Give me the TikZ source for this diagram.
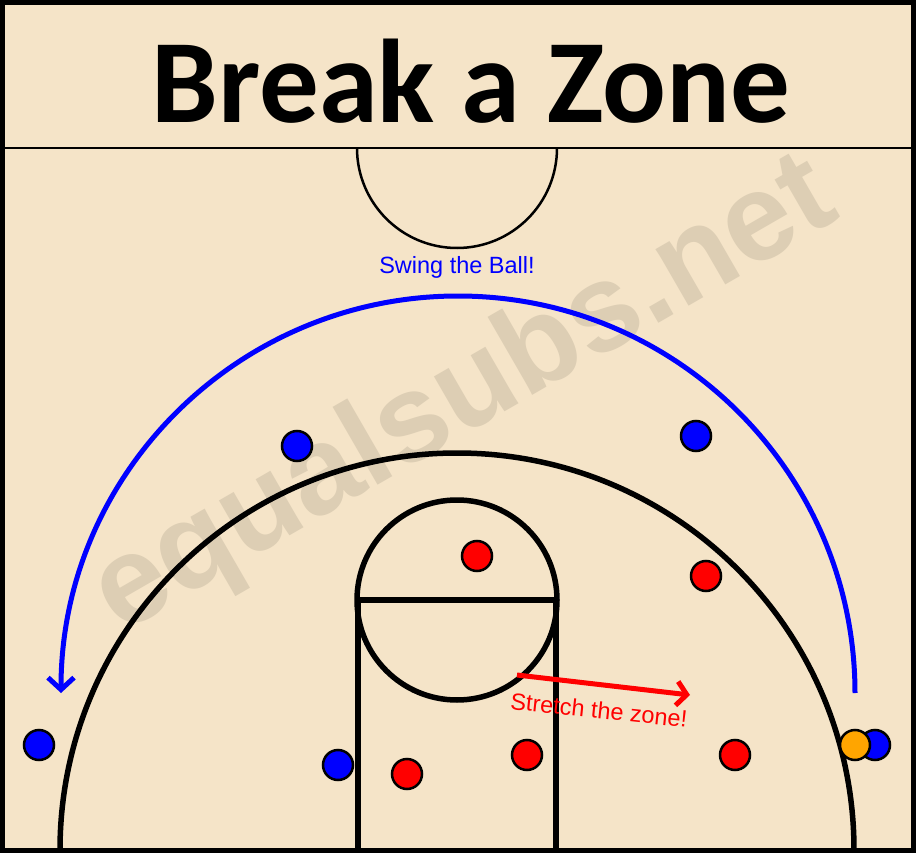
\documentclass[tikz,border=0pt]{standalone}
\usepackage{fontspec}
\usetikzlibrary{arrows.meta}
\newfontfamily\titlefont{Carlito}
\newfontfamily\labelfont{Liberation Sans}
\definecolor{court}{RGB}{245,228,200}
\definecolor{stamp}{RGB}{221,206,180}
\definecolor{ballcol}{RGB}{255,165,0}
\begin{document}
\begin{tikzpicture}[x=1pt,y=-1pt,
   player/.style={draw,circle,line width=2.5pt,minimum size=30pt,inner sep=0pt},
   offense/.style={player,fill=blue},
   defense/.style={player,fill=red},
   lines/.style={line width=5.5pt},
   note/.style={font=\labelfont\fontsize{23.5}{24}\selectfont,inner sep=0pt}]
\fill[court] (0,0) rectangle (916,853);
\useasboundingbox (0,0) rectangle (916,853);
% watermark
\node[text=stamp,rotate=30,font=\labelfont\bfseries\fontsize{124}{124}\selectfont] (stamp) at (465,398) {equalsubs.net};
% court
\draw[line width=2.5pt] (0,148) -- (916,148);
\draw[line width=2.5pt] (557,148) arc[start angle=0,end angle=180,radius=100];
\draw[lines] (60,850) arc[start angle=180,end angle=360,radius=397];
\draw[lines] (358,850) -- (358,600) -- (556,600) -- (556,850);
\draw[lines] (457,600) circle[radius=100];
\draw[line width=5pt] (2.5,2.5) rectangle (913.5,850.5);
\node[font=\titlefont\bfseries\fontsize{119}{119}\selectfont,anchor=base] (title) at (471,123) {Break a Zone};
% swing the ball
\coordinate (swingR) at (855,693);
\draw[blue,line width=5pt,-{Straight Barb[length=12pt,width=26pt]}] (swingR) arc[start angle=0,end angle=-180,radius=397];
\node[note,text=blue,anchor=base] (swing) at (457,273) {Swing the Ball!};
% stretch the zone
\coordinate (z1) at (517,675);
\coordinate (z2) at (690,695);
\draw[red,line width=5pt,-{Straight Barb[length=10pt,width=24pt]}] (z1) -- (z2);
\node[note,text=red,rotate=-6] (stretch) at (599,710) {Stretch the zone!};
% players
\foreach \n/\x/\y in {o1/297/446,o2/696/436,o3/39/745,o4/338/765,o5/875/745}
   \node[offense] (\n) at (\x,\y) {};
\foreach \n/\x/\y in {x1/477/556,x2/706/576,x3/407/774,x4/527/755,x5/735/755}
   \node[defense] (\n) at (\x,\y) {};
\node[player,fill=ballcol] (ball) at (855,745) {};
\end{tikzpicture}
\end{document}
